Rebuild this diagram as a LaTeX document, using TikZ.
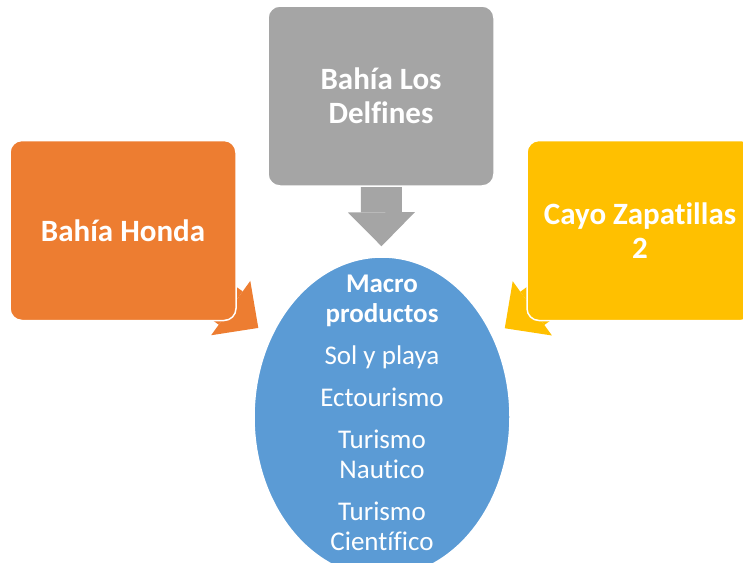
\documentclass[tikz,border=0pt]{standalone}
\usepackage{fontspec}
\setmainfont[Ligatures=NoCommon]{Carlito}
\usetikzlibrary{arrows.meta, positioning, shapes.geometric, calc, backgrounds}
\definecolor{boxgray}{HTML}{A5A5A5}
\definecolor{hondaorange}{HTML}{ED7D31}
\definecolor{cayoyellow}{HTML}{FFC000}
\definecolor{macroblue}{HTML}{5B9BD5}

\begin{document}
\begin{tikzpicture}[x=1pt, y=-1pt,
    box/.style={rectangle, draw=white, line width=1.5pt, rounded corners=12pt, minimum width=226pt, minimum height=180pt, align=center, text=white, font=\fontsize{31}{34}\selectfont\bfseries},
    macro/.style={ellipse, draw=white, line width=1.5pt, fill=macroblue, minimum width=256pt, minimum height=320pt, inner sep=0pt},
    bodytxt/.style={align=center, text=white, font=\fontsize{27}{30}\selectfont},
    blk/.style={line width=41pt, -{Triangle[length=34pt 0 0, width=67pt 0 0, line width=0pt]}}
]
    \useasboundingbox (0,0) rectangle (743,562);

    % Boxes
    \node[box, fill=boxgray] (delfines) at (381,96) {Bahía Los\\Delfines};
    \node[box, fill=hondaorange] (honda) at (123,230.5) {Bahía Honda};
    \node[box, fill=cayoyellow] (cayo) at (640,230.5) {Cayo Zapatillas\\2};

    % Ellipse
    \node[macro] (macro) at (382,417) {};
    \node[bodytxt] (macrotxt) at (382,413) {\textbf{Macro}\\\textbf{productos}\\[12pt]Sol y playa\\[12pt]Ectourismo\\[12pt]Turismo\\Nautico\\[12pt]Turismo\\Científico};

    % === Block arrows ===
    \begin{scope}[on background layer]
        \draw[blk, boxgray, shorten >=10pt] (delfines.center) -- (macro);
        \draw[blk, hondaorange, shorten >=15pt] (honda.center) -- (macro);
        \draw[blk, cayoyellow, shorten >=14pt] (cayo.center) -- (macro);
    \end{scope}
\end{tikzpicture}
\end{document}
